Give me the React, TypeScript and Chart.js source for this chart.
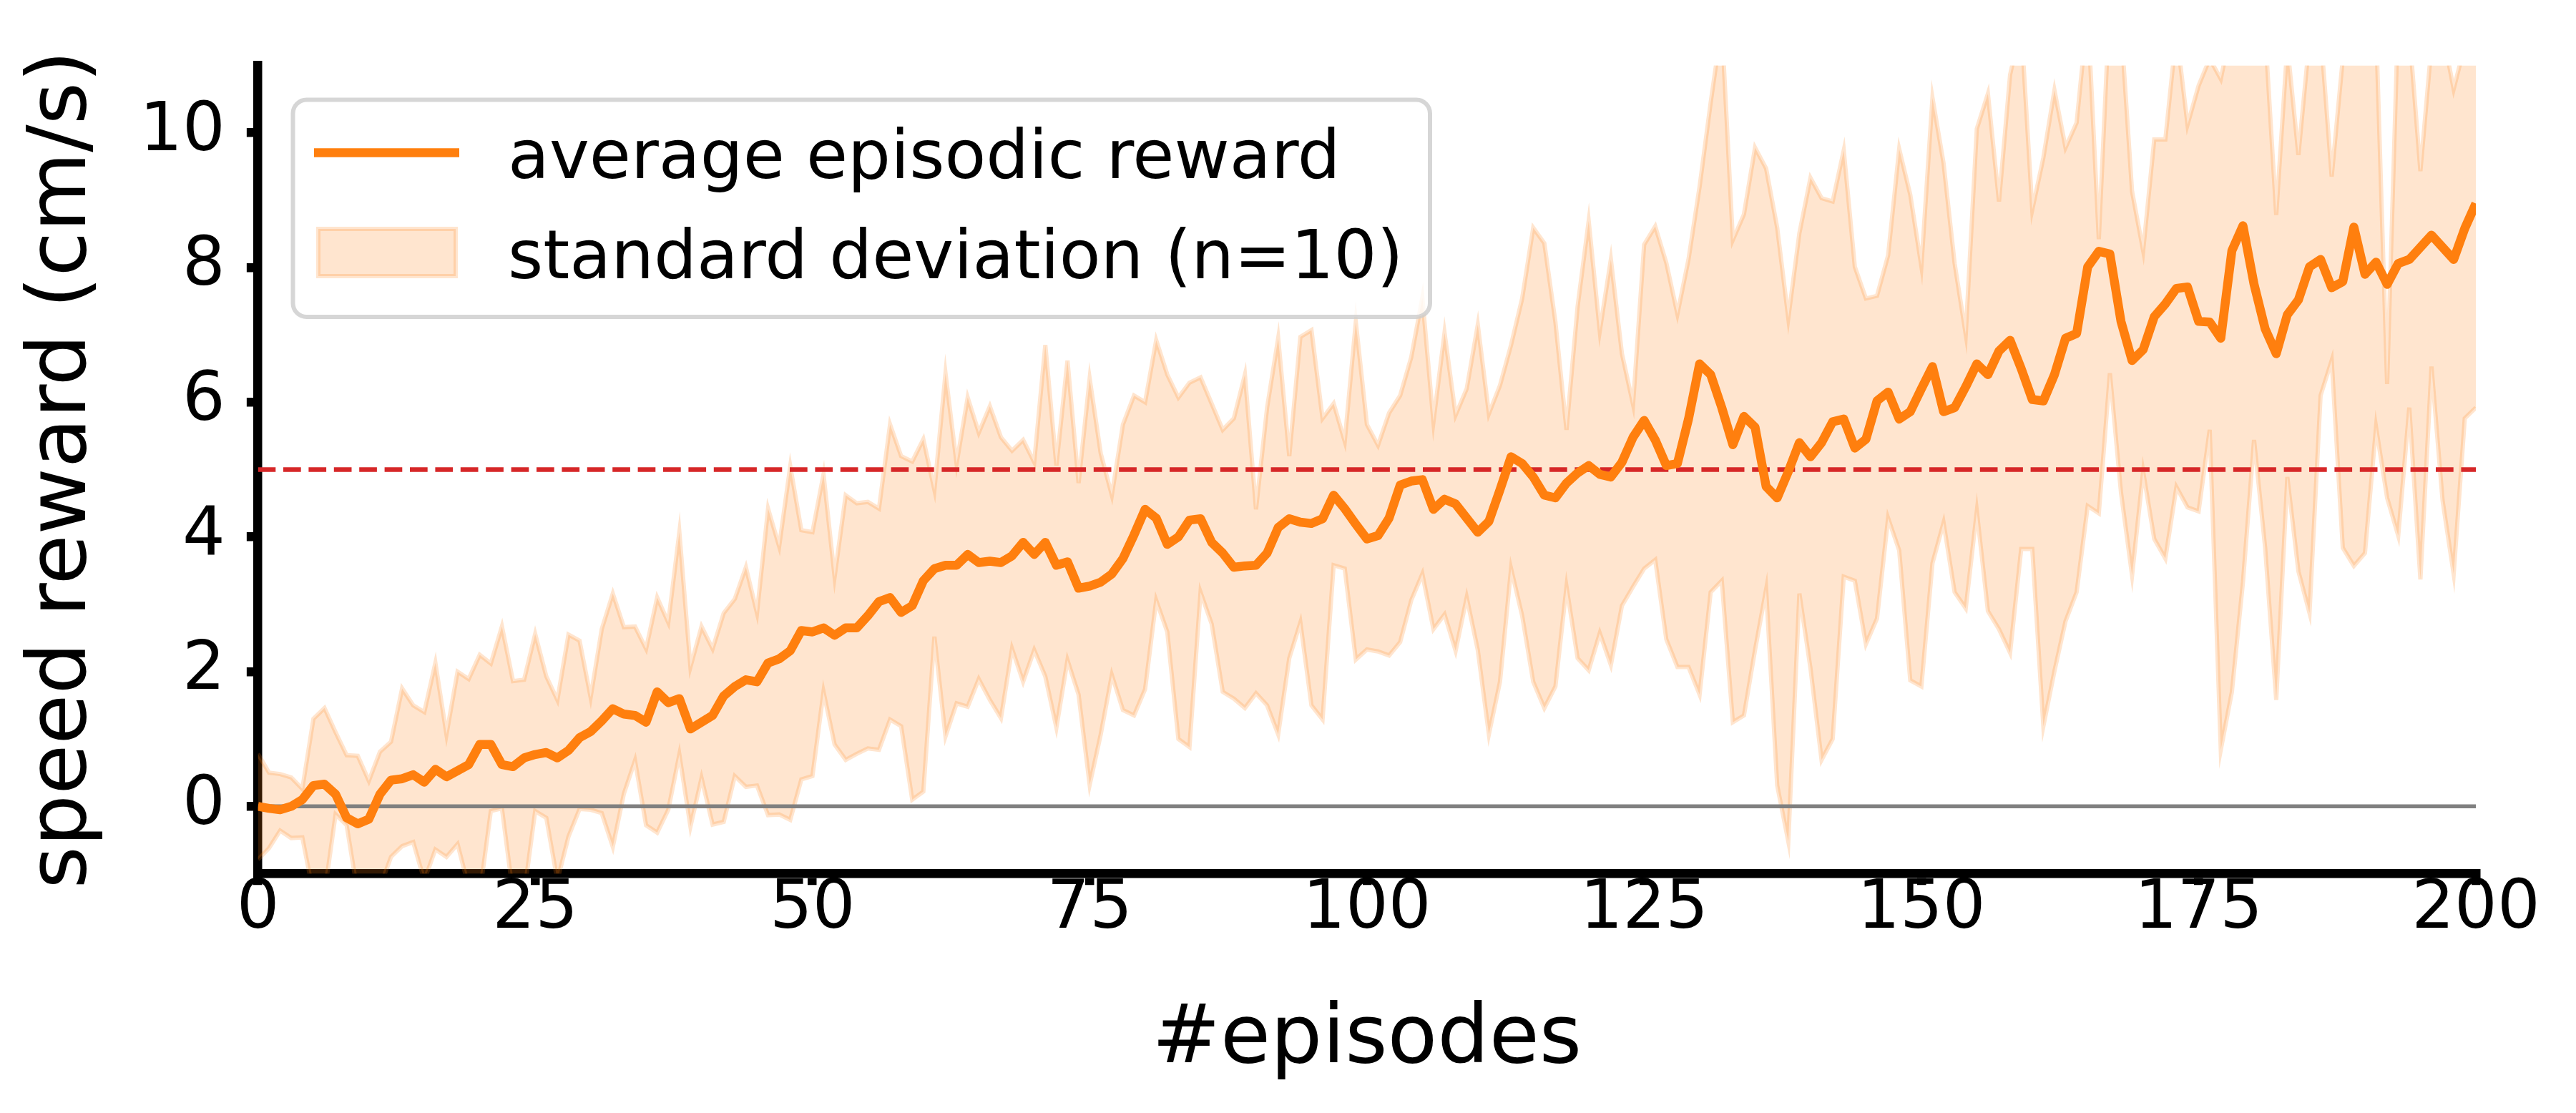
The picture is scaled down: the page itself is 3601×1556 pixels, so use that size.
import React, { useEffect, useRef } from "react";
import { Chart, registerables } from "chart.js";

Chart.register(...registerables);

// ---------------- data ----------------
const EPISODES = Array.from({ length: 201 }, (_, i) => i);

const MEAN_REWARD = [
  0.0, -0.03, -0.05, 0.0, 0.1, 0.31, 0.33, 0.18, -0.17, -0.26,
  -0.19, 0.18, 0.39, 0.41, 0.47, 0.36, 0.55, 0.44, 0.53, 0.62,
  0.92, 0.92, 0.62, 0.59, 0.72, 0.77, 0.8, 0.72, 0.83, 1.02,
  1.11, 1.27, 1.45, 1.37, 1.35, 1.25, 1.7, 1.54, 1.6, 1.15,
  1.25, 1.35, 1.64, 1.78, 1.88, 1.85, 2.13, 2.19, 2.31, 2.61,
  2.59, 2.65, 2.54, 2.65, 2.65, 2.83, 3.04, 3.1, 2.88, 2.98,
  3.35, 3.53, 3.58, 3.58, 3.74, 3.62, 3.64, 3.62, 3.72, 3.92,
  3.74, 3.92, 3.58, 3.63, 3.24, 3.27, 3.33, 3.45, 3.68, 4.03,
  4.41, 4.28, 3.89, 4.0, 4.25, 4.27, 3.92, 3.76, 3.55, 3.57,
  3.58, 3.76, 4.14, 4.27, 4.22, 4.2, 4.27, 4.62, 4.42, 4.19,
  3.97, 4.02, 4.28, 4.77, 4.83, 4.85, 4.41, 4.56, 4.49, 4.28,
  4.07, 4.23, 4.7, 5.19, 5.09, 4.89, 4.62, 4.58, 4.8, 4.95,
  5.06, 4.93, 4.89, 5.11, 5.48, 5.73, 5.44, 5.06, 5.09, 5.75,
  6.57, 6.41, 5.92, 5.37, 5.79, 5.63, 4.75, 4.58, 4.97, 5.4,
  5.19, 5.4, 5.71, 5.75, 5.32, 5.45, 6.02, 6.15, 5.75, 5.86,
  6.2, 6.53, 5.86, 5.92, 6.23, 6.57, 6.41, 6.76, 6.92, 6.5,
  6.04, 6.02, 6.41, 6.95, 7.02, 8.01, 8.24, 8.2, 7.2, 6.62,
  6.78, 7.27, 7.46, 7.69, 7.71, 7.2, 7.19, 6.95, 8.25, 8.62,
  7.75, 7.09, 6.72, 7.3, 7.52, 8.01, 8.12, 7.7, 7.79, 8.6,
  7.9, 8.08, 7.75, 8.06, 8.12, 8.3, 8.48, 8.3, 8.12, 8.58,
  8.95,
];

const STD_UPPER = [
  0.78, 0.5, 0.48, 0.43, 0.26, 1.3, 1.46, 1.1, 0.76, 0.75,
  0.38, 0.81, 0.96, 1.75, 1.5, 1.4, 2.13, 1.07, 2.0, 1.89,
  2.25, 2.12, 2.67, 1.86, 1.88, 2.56, 1.93, 1.58, 2.55, 2.46,
  1.62, 2.63, 3.16, 2.66, 2.67, 2.34, 3.1, 2.73, 4.07, 2.07,
  2.67, 2.34, 2.87, 3.08, 3.55, 2.87, 4.42, 3.86, 5.05, 4.1,
  4.07, 4.93, 3.41, 4.62, 4.5, 4.52, 4.42, 5.67, 5.2, 5.12,
  5.45, 4.7, 6.43, 5.09, 6.07, 5.55, 5.94, 5.48, 5.28, 5.44,
  5.11, 6.85, 5.06, 6.62, 4.8, 6.35, 5.24, 4.62, 5.67, 6.1,
  6.0, 6.92, 6.41, 6.07, 6.29, 6.37, 5.98, 5.59, 5.76, 6.41,
  4.41, 5.92, 6.95, 5.2, 6.97, 7.07, 5.76, 5.98, 5.42, 7.19,
  5.67, 5.36, 5.84, 6.1, 6.67, 7.55, 5.71, 7.03, 5.81, 6.2,
  7.15, 5.83, 6.25, 6.85, 7.54, 8.59, 8.36, 7.19, 5.59, 7.42,
  8.69, 7.06, 8.12, 6.72, 5.97, 8.34, 8.61, 8.07, 7.31, 8.12,
  9.2, 10.45, 11.6, 8.41, 8.79, 9.78, 9.47, 8.59, 7.25, 8.51,
  9.33, 9.03, 8.98, 9.74, 8.01, 7.54, 7.58, 8.18, 9.76, 9.08,
  8.02, 10.52, 9.55, 8.06, 7.01, 10.06, 10.58, 8.98, 10.86, 11.6,
  8.86, 9.63, 10.63, 9.78, 10.15, 11.8, 8.42, 12.0, 11.6, 9.13,
  8.25, 9.9, 9.9, 11.5, 10.12, 10.7, 11.1, 10.8, 11.6, 11.9,
  11.6, 11.5, 8.78, 11.3, 9.67, 11.4, 11.5, 9.35, 11.1, 11.7,
  11.8, 11.6, 6.27, 11.8, 11.5, 9.43, 11.3, 11.5, 10.65, 11.3,
  11.5,
];

const STD_LOWER = [
  -0.79, -0.62, -0.36, -0.47, -0.46, -1.3, -1.3, -0.12, -0.28, -1.3,
  -1.4, -1.2, -0.75, -0.59, -0.53, -1.1, -0.64, -0.75, -0.56, -1.2,
  -1.3, -0.07, -0.03, -1.3, -1.3, -0.07, -0.17, -1.1, -0.45, -0.04,
  -0.05, -0.1, -0.6, 0.19, 0.68, -0.28, -0.39, -0.05, 0.77, -0.3,
  0.42, -0.27, -0.23, 0.45, 0.29, 0.31, -0.13, -0.12, -0.2, 0.4,
  0.45, 1.7, 0.92, 0.69, 0.78, 0.86, 0.84, 1.29, 1.19, 0.1,
  0.22, 2.52, 1.04, 1.53, 1.48, 1.89, 1.58, 1.31, 2.34, 1.85,
  2.32, 1.93, 1.17, 2.17, 1.66, 0.32, 1.07, 1.95, 1.43, 1.35,
  1.74, 3.06, 2.59, 1.0, 0.88, 3.18, 2.71, 1.7, 1.6, 1.46,
  1.68, 1.5, 1.07, 2.2, 2.73, 1.5, 1.29, 3.58, 3.53, 2.18,
  2.33, 2.3, 2.24, 2.44, 3.06, 3.45, 2.63, 2.85, 2.31, 3.1,
  2.32, 1.07, 1.85, 3.53, 2.83, 1.85, 1.46, 1.78, 3.26, 2.2,
  2.02, 2.57, 2.1, 2.98, 3.26, 3.53, 3.66, 2.48, 2.07, 2.07,
  1.66, 3.18, 3.35, 1.25, 1.35, 2.32, 3.22, 0.31, -0.52, 3.16,
  2.05, 0.69, 1.0, 3.41, 3.35, 2.41, 2.79, 4.28, 3.8, 1.87,
  1.78, 3.61, 4.21, 3.18, 2.94, 4.38, 2.9, 2.63, 2.28, 3.82,
  3.82, 1.19, 2.01, 2.75, 3.18, 4.46, 4.35, 6.43, 4.66, 3.43,
  4.97, 3.97, 3.68, 4.74, 4.44, 4.38, 5.59, 0.84, 1.7, 3.33,
  5.44, 3.84, 1.58, 4.89, 3.49, 2.87, 6.1, 6.62, 3.84, 3.57,
  3.76, 5.63, 4.58, 4.02, 5.92, 3.37, 6.53, 4.54, 3.45, 5.76,
  5.92,
];

const TARGET_LEVEL = 5;
const ZERO_LEVEL = 0;
const X_RANGE = [0, 200];
const Y_RANGE = [-1, 11];
const X_TICKS = [0, 25, 50, 75, 100, 125, 150, 175, 200];
const Y_TICKS = [0, 2, 4, 6, 8, 10];
const LEGEND_LABELS = ["average episodic reward", "standard deviation (n=10)"];
const X_TITLE = "#episodes";
const Y_TITLE = "speed reward (cm/s)";

// ---------------- styling ----------------
const W = 3601;
const H = 1556;
const FONT = "'DejaVu Sans', 'Liberation Sans', sans-serif";
const ORANGE = "#ff7f0e";
const BAND = "rgba(255,127,14,0.2)";
const SPINE = 12.5;
const TEXT_SIZE = 94.5;
const TICK_SIZE = 94;

const toPoints = (ys: number[]) => EPISODES.map((x, i) => ({ x, y: ys[i] }));

const mplLegend = {
  id: "mplLegend",
  afterDraw(chart: any) {
    const ctx = chart.ctx as CanvasRenderingContext2D;
    const { left, top } = chart.chartArea;
    const ds = chart.data.datasets;
    ctx.save();
    // frame
    const fx = left + 48.9;
    const fy = top + 48.1;
    const fw = 1589.5;
    const fh = 303.4;
    ctx.beginPath();
    (ctx as any).roundRect(fx, fy, fw, fh, 19);
    ctx.fillStyle = "rgba(255,255,255,0.8)";
    ctx.fill();
    ctx.lineWidth = 6;
    ctx.strokeStyle = "rgba(204,204,204,0.8)";
    ctx.stroke();
    // line handle
    ctx.beginPath();
    ctx.moveTo(left + 78.4, top + 122);
    ctx.lineTo(left + 281.4, top + 122);
    ctx.lineWidth = 12.5;
    ctx.lineCap = "butt";
    ctx.strokeStyle = ds[0].borderColor;
    ctx.stroke();
    // patch handle
    ctx.beginPath();
    ctx.rect(left + 84.4, top + 228.5, 192, 66);
    ctx.fillStyle = BAND;
    ctx.fill();
    ctx.lineWidth = 6;
    ctx.strokeStyle = BAND;
    ctx.stroke();
    // texts
    ctx.fillStyle = "#000";
    ctx.font = `${TEXT_SIZE}px ${FONT}`;
    ctx.textAlign = "left";
    ctx.textBaseline = "alphabetic";
    ctx.fillText(ds[0].label, left + 349.4, top + 157);
    ctx.fillText(ds[3].label, left + 349.4, top + 297.5);
    ctx.restore();
  },
};

export default function App() {
  const canvasRef = useRef<HTMLCanvasElement | null>(null);

  useEffect(() => {
    document.body.style.margin = "0";
    const canvas = canvasRef.current;
    if (!canvas) return;

    const chart = new Chart(canvas, {
      type: "line",
      data: {
        datasets: [
          {
            label: LEGEND_LABELS[0],
            data: toPoints(MEAN_REWARD),
            borderColor: ORANGE,
            borderWidth: 12.5,
            borderJoinStyle: "round",
            pointRadius: 0,
            tension: 0,
            fill: false,
            order: 0,
          },
          {
            label: "zero",
            data: [
              { x: X_RANGE[0], y: ZERO_LEVEL },
              { x: X_RANGE[1], y: ZERO_LEVEL },
            ],
            borderColor: "#808080",
            borderWidth: 5.5,
            pointRadius: 0,
            fill: false,
            order: 1,
          },
          {
            label: "target",
            data: [
              { x: X_RANGE[0], y: TARGET_LEVEL },
              { x: X_RANGE[1], y: TARGET_LEVEL },
            ],
            borderColor: "#d62728",
            borderWidth: 6.7,
            borderDash: [24.7, 10.7],
            pointRadius: 0,
            fill: false,
            order: 1,
          },
          {
            label: LEGEND_LABELS[1],
            data: toPoints(STD_UPPER),
            borderColor: BAND,
            backgroundColor: BAND,
            borderWidth: 6,
            pointRadius: 0,
            tension: 0,
            fill: "+1",
            order: 2,
          },
          {
            label: "std lower",
            data: toPoints(STD_LOWER),
            borderColor: BAND,
            borderWidth: 6,
            pointRadius: 0,
            tension: 0,
            fill: false,
            order: 2,
          },
        ] as any,
      },
      options: {
        animation: false,
        responsive: false,
        devicePixelRatio: 1,
        events: [],
        layout: { padding: { left: 0, right: 140, top: 91.5, bottom: 0 } },
        plugins: {
          legend: { display: false },
          tooltip: { enabled: false },
          filler: { propagate: false },
        },
        scales: {
          x: {
            type: "linear",
            min: X_RANGE[0],
            max: X_RANGE[1],
            afterBuildTicks: (s: any) => {
              s.ticks = X_TICKS.map((v) => ({ value: v }));
            },
            afterFit: (s: any) => {
              s.height = H - 1221.5;
            },
            grid: {
              display: true,
              drawOnChartArea: false,
              drawTicks: true,
              tickLength: 15.75,
              tickWidth: SPINE,
              tickColor: "#000",
              lineWidth: SPINE,
              color: "#000",
            },
            border: { display: true, width: SPINE, color: "#000" },
            ticks: {
              color: "#000",
              font: { family: FONT, size: TICK_SIZE, lineHeight: 0.75 },
              padding: 0,
              maxRotation: 0,
              autoSkip: false,
            },
            title: {
              display: true,
              text: X_TITLE,
              color: "#000",
              font: { family: FONT, size: 114 },
              padding: { top: 0, bottom: 32 },
            },
          },
          y: {
            type: "linear",
            min: Y_RANGE[0],
            max: Y_RANGE[1],
            afterBuildTicks: (s: any) => {
              s.ticks = Y_TICKS.map((v) => ({ value: v }));
            },
            afterFit: (s: any) => {
              s.width = 360.6;
            },
            grid: {
              display: true,
              drawOnChartArea: false,
              drawTicks: true,
              tickLength: 15.75,
              tickWidth: SPINE,
              tickColor: "#000",
              lineWidth: SPINE,
              color: "#000",
            },
            border: { display: true, width: SPINE, color: "#000" },
            ticks: {
              color: "#000",
              font: { family: FONT, size: TICK_SIZE },
              padding: 30,
              autoSkip: false,
            },
            title: {
              display: true,
              text: Y_TITLE,
              color: "#000",
              font: { family: FONT, size: 114 },
              padding: { top: 20.6, bottom: 0 },
            },
          },
        },
      } as any,
      plugins: [mplLegend],
    });

    return () => chart.destroy();
  }, []);

  return (
    <div style={{ width: W, height: H, background: "#fff", margin: 0, padding: 0 }}>
      <style>{`html,body{margin:0;padding:0;background:#fff;}`}</style>
      <canvas ref={canvasRef} width={W} height={H} style={{ display: "block", width: W, height: H }} />
    </div>
  );
}
